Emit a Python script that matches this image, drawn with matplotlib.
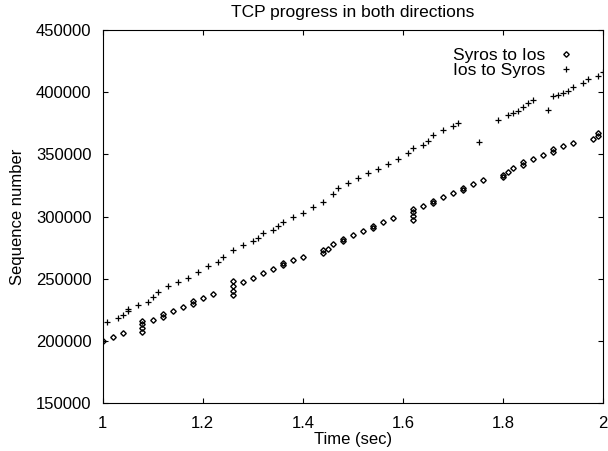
import matplotlib.pyplot as plt

plt.rcParams['font.family'] = ['Liberation Sans', 'DejaVu Sans']

# Data (time in sec, sequence number)
syros_t = [1.001, 1.021, 1.04, 1.079, 1.079, 1.079, 1.079, 1.10, 1.12, 1.12, 1.14, 1.16,
           1.18, 1.18, 1.20, 1.22, 1.26, 1.26, 1.26, 1.26, 1.28, 1.30, 1.32, 1.34, 1.36, 1.36,
           1.38, 1.40, 1.44, 1.44, 1.45, 1.46, 1.48, 1.48, 1.50, 1.52, 1.54, 1.54, 1.56,
           1.58, 1.62, 1.62, 1.62, 1.62, 1.64, 1.66, 1.66, 1.68, 1.70, 1.72, 1.72, 1.74,
           1.76, 1.80, 1.80, 1.81, 1.82, 1.84, 1.84, 1.86, 1.88, 1.90, 1.90, 1.92, 1.94,
           1.98, 1.99, 1.99]
syros_seq = [200400, 203600, 206800, 207500, 210500, 213500, 216000, 217000, 219400, 221400,
             224000, 227000, 229800, 231800, 234200, 237400, 237000, 240500, 244500, 248500,
             247800, 251000, 254800, 257800, 260800, 262800, 265000, 267600, 270800, 272800,
             274000, 277700, 280500, 282300, 285200, 288400, 290600, 292600, 295600, 298500,
             297500, 300500, 303500, 306000, 308400, 310800, 312800, 315600, 318800, 321400,
             323000, 325800, 329000, 331400, 333400, 335800, 339000, 341600, 343600, 346200,
             349000, 352000, 354000, 356400, 359000, 362600, 364800, 366800]

ios_t = [1.009, 1.031, 1.04, 1.05, 1.05, 1.07, 1.09, 1.10, 1.11, 1.13, 1.15, 1.17, 1.19,
         1.21, 1.23, 1.24, 1.26, 1.28, 1.30, 1.31, 1.32, 1.34, 1.35, 1.36, 1.38, 1.40,
         1.42, 1.44, 1.46, 1.47, 1.49, 1.51, 1.53, 1.55, 1.57, 1.59, 1.61, 1.62, 1.64,
         1.65, 1.66, 1.68, 1.70, 1.71, 1.752, 1.79, 1.81, 1.82, 1.83, 1.84, 1.85, 1.86,
         1.89, 1.90, 1.91, 1.92, 1.93, 1.94, 1.96, 1.97, 1.99, 2.0]
ios_seq = [215600, 218200, 221200, 224000, 226000, 229000, 231600, 235000, 239000, 243800,
           247000, 251000, 255300, 260200, 263800, 267800, 273000, 277200, 280400, 283000,
           286500, 289200, 292400, 295600, 299600, 303000, 307600, 311800, 317800, 322600,
           327000, 331000, 334600, 338200, 342200, 346500, 351000, 355000, 357800, 360400,
           365200, 369200, 372400, 375000, 359800, 377600, 381200, 383000, 384400, 387600,
           391000, 393800, 385800, 396400, 397800, 399000, 401000, 403600, 407000,
           410600, 413200, 415800]

fig = plt.figure(figsize=(6.08, 4.51), dpi=100)
ax = fig.add_axes([0.1689, 0.1058, 0.8229, 0.8283])

ax.plot(syros_t, syros_seq, linestyle='none', marker='D', markersize=2.8,
        markerfacecolor='none', markeredgecolor='black', markeredgewidth=1.0,
        label='Syros to Ios')
ax.plot(ios_t, ios_seq, linestyle='none', marker='+', markersize=4,
        color='black', markeredgewidth=0.9, label='Ios to Syros')

ax.set_xlim(1, 2)
ax.set_ylim(150000, 450000)
ax.set_xticks([1, 1.2, 1.4, 1.6, 1.8, 2])
ax.set_xticklabels(['1', '1.2', '1.4', '1.6', '1.8', '2'])
ax.set_yticks(range(150000, 450001, 50000))
ax.tick_params(direction='in', top=True, right=True, length=3.6, labelsize=12)
ax.tick_params(axis='y', pad=8)
ax.tick_params(axis='x', pad=9)

ax.set_title('TCP progress in both directions', fontsize=12.5, pad=9)
ax.set_xlabel('Time (sec)', fontsize=12, labelpad=1)
ax.set_ylabel('Sequence number', fontsize=12, labelpad=8)

# both labels use the same letters, so left alignment looks flush right too
ax.legend(loc='upper right', bbox_to_anchor=(0.943, 0.952), frameon=False,
          markerfirst=False, fontsize=12.5, handlelength=1.0,
          handletextpad=0.7, labelspacing=0.02, borderpad=0,
          borderaxespad=0)

fig.savefig('out.png', dpi=100)
